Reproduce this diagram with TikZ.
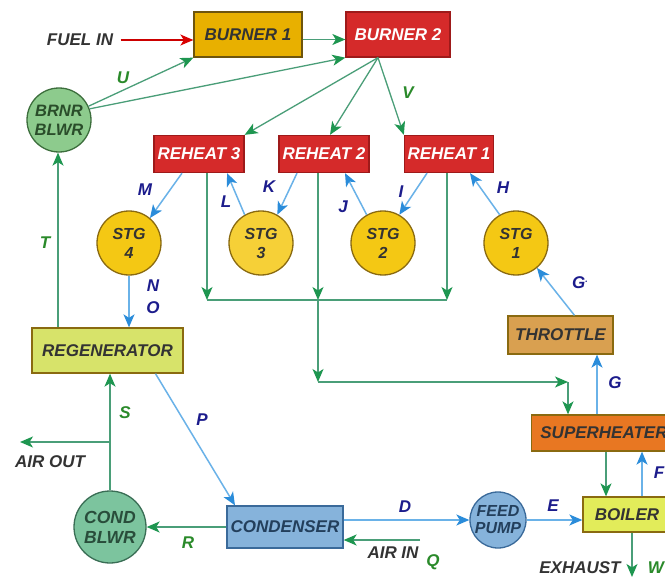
\documentclass[tikz,border=0pt]{standalone}
\usepackage{fontspec}
\setmainfont{Liberation Sans}
\usetikzlibrary{arrows.meta}
\definecolor{gln}{HTML}{4A9E78}
\definecolor{garr}{HTML}{1E9650}
\definecolor{bln}{HTML}{6AB2E8}
\definecolor{barr}{HTML}{2A8CDA}
\definecolor{navy}{HTML}{1C1C8C}
\definecolor{glab}{HTML}{2A8A2A}
\definecolor{txt}{HTML}{333333}
\definecolor{redf}{HTML}{D52A2A}
\definecolor{redd}{HTML}{9E1A1A}
\definecolor{goldf}{HTML}{E8B000}
\definecolor{yelf}{HTML}{F4C814}
\definecolor{yeld}{HTML}{8A6A10}
\definecolor{bbf}{HTML}{8DCB8D}
\definecolor{bbd}{HTML}{3C6E3C}
\definecolor{thrf}{HTML}{D9A050}
\definecolor{supf}{HTML}{E87722}
\definecolor{boilf}{HTML}{E2EC5A}
\definecolor{regf}{HTML}{D7E36A}
\definecolor{condf}{HTML}{86B3DB}
\definecolor{condd}{HTML}{3A6A9A}
\definecolor{cbf}{HTML}{7CC49E}
\definecolor{cbd}{HTML}{3A6E55}
\tikzset{
  every node/.style={font=\fontsize{17}{18}\selectfont\bfseries\itshape},
  boxnode/.style={rectangle, draw=#1, line width=1.3pt, inner sep=2pt},
  rednode/.style={boxnode=redd, fill=redf, text=white},
  circnode/.style={circle, line width=1.3pt, align=center, inner sep=0pt, font=\fontsize{16}{19}\selectfont\bfseries\itshape},
  tip/.style={-{Stealth[length=13pt,width=11pt,inset=3.5pt,color=#1]}},
  garrow/.style={draw=gln, line width=1.3pt, tip=garr},
  gline/.style={draw=gln, line width=1.3pt},
  barrow/.style={draw=bln, line width=1.5pt, tip=barr},
  blab/.style={text=navy, font=\fontsize{17}{18}\selectfont\bfseries\itshape},
  glabel/.style={text=glab, font=\fontsize{17}{18}\selectfont\bfseries\itshape},
  plain/.style={text=txt},
}
\begin{document}
\begin{tikzpicture}[x=1pt,y=-1pt]
\clip (0,0) rectangle (665,578);
\fill[white] (0,0) rectangle (665,578);
% boxes
\node[boxnode=yeld!80!black, fill=goldf, text=txt, minimum width=108pt, minimum height=45pt] (b1) at (248,34.5) {BURNER 1};
\node[rednode, minimum width=104pt, minimum height=45pt] (b2) at (398,34.5) {BURNER 2};
\node[rednode, minimum width=90pt, minimum height=37pt] (r3) at (199,154) {REHEAT 3};
\node[rednode, minimum width=90pt, minimum height=37pt] (r2) at (324,154) {REHEAT 2};
\node[rednode, minimum width=89pt, minimum height=37pt] (r1) at (449,154) {REHEAT 1};
\node[circnode, draw=yeld, fill=yelf, text=txt, minimum size=64pt] (s4) at (129,243) {STG\\4};
\node[circnode, draw=yeld, fill=yelf!85!white, text=txt, minimum size=64pt] (s3) at (261,243) {STG\\3};
\node[circnode, draw=yeld, fill=yelf, text=txt, minimum size=64pt] (s2) at (383,243) {STG\\2};
\node[circnode, draw=yeld, fill=yelf, text=txt, minimum size=64pt] (s1) at (516,243) {STG\\1};
\node[circnode, draw=bbd, fill=bbf, text=bbd!70!black, minimum size=64pt, font=\fontsize{16.5}{19}\selectfont\bfseries\itshape] (bb) at (59,120) {BRNR\\BLWR};
\node[boxnode=yeld, fill=thrf, text=txt, minimum width=105pt, minimum height=38pt] (thr) at (560.5,335) {THROTTLE};
\node[boxnode=yeld, fill=supf, text=txt, minimum width=145pt, minimum height=36pt] (sup) at (604,433) {SUPERHEATER};
\node[boxnode=yeld, fill=boilf, text=txt, minimum width=88pt, minimum height=35pt] (boil) at (627,514.5) {BOILER};
\node[circnode, draw=condd, fill=condf, text=condd!60!black, minimum size=56pt, font=\fontsize{16}{17}\selectfont\bfseries\itshape] (fp) at (498,520) {FEED\\PUMP};
\node[boxnode=condd, fill=condf, text=condd!60!black, minimum width=116pt, minimum height=42pt] (cond) at (285,527) {CONDENSER};
\node[circnode, draw=cbd, fill=cbf, text=cbd!70!black, minimum size=72pt, font=\fontsize{17.5}{20}\selectfont\bfseries\itshape] (cb) at (110,527) {COND\\BLWR};
\node[boxnode=yeld, fill=regf, text=txt, minimum width=151pt, minimum height=45pt] (regen) at (107.5,350.5) {REGENERATOR};
% plain texts
\node[plain] (fuel) at (80,40) {FUEL IN};
\node[plain] (airout) at (50,462) {AIR OUT};
\node[plain] (airin) at (393,553) {AIR IN};
\node[plain] (exh) at (580,568) {EXHAUST};
% coordinates
\coordinate (b2src) at ([xshift=-20pt]b2.south);
\coordinate (j1) at (207,300);
\coordinate (j2) at (318,300);
\coordinate (j3) at (447,300);
\coordinate (j4) at (318,382);
\coordinate (j5) at (568,382);
\coordinate (ao) at (110,442);
\coordinate (aoend) at (20,442);
\coordinate (aistart) at (420,540);
\coordinate (wx) at (632,0);
\coordinate (wend) at (632,577);
\coordinate (fx) at (642,0);
% burner connectors
\draw[draw=red!80!black, line width=1.3pt, tip=red!85!black, shorten <=4pt] (fuel.east) -- (fuel.east -| b1.west);
\draw[garrow] ([yshift=-5pt]b1.east) -- ([yshift=-5pt]b2.west);
\draw[garrow] (bb.25) -- (b1.south west);
\draw[garrow] (bb.20) -- (b2.south west);
\draw[garrow] (b2src) -- (r3.north east);
\draw[garrow] (b2src) -- ([xshift=6pt]r2.north);
\draw[garrow] (b2src) -- (r1.north west);
% steam loop
\draw[barrow] ([xshift=-17pt]r3.south) -- (s4.50);
\draw[barrow] (s3.120) -- ([xshift=28pt]r3.south);
\draw[barrow] ([xshift=-27pt]r2.south) -- (s3.60);
\draw[barrow] (s2.120) -- ([xshift=21pt]r2.south);
\draw[barrow] ([xshift=-22pt]r1.south) -- (s2.60);
\draw[barrow] (s1.120) -- ([xshift=21pt]r1.south);
\draw[barrow] ([xshift=14pt]thr.north) -- (s1.-50);
\draw[barrow] ([xshift=-7pt]sup.north) -- ([xshift=-7pt]sup.north |- thr.south);
\draw[barrow] (s4.south) -- (s4.south |- regen.north);
\draw[barrow] ([xshift=48pt]regen.south) -- ([xshift=-50pt]cond.north);
\draw[barrow] (cond.east |- fp.west) -- (fp.west);
\draw[barrow] (fp.east) -- (fp.east -| boil.west);
\draw[barrow] (boil.north -| fx) -- (sup.south -| fx);
% reheat exhaust gas
\draw[garrow] ([xshift=8pt]r3.south) -- (j1);
\draw[garrow] ([xshift=-6pt]r2.south) -- (j2);
\draw[garrow] ([xshift=-2pt]r1.south) -- (j3);
\draw[gline] (j1) -- (j3);
\draw[garrow] (j2) -- (j4);
\draw[garrow] (j4) -- (j5);
\draw[garrow] (j5) -- (j5 |- sup.north);
\draw[garrow] ([xshift=2pt]sup.south) -- ([xshift=2pt]sup.south |- boil.north);
\draw[garrow] (boil.south -| wx) -- (wend);
% air
\draw[garrow] (aistart) -- (aistart -| cond.east);
\draw[garrow] (cond.west) -- (cond.west -| cb.east);
\draw[garrow] (cb.north) -- (cb.north |- regen.south);
\draw[garrow] (ao) -- (aoend);
\draw[garrow] ([xshift=-49.5pt]regen.north) -- ([xshift=-49.5pt]regen.north |- bb.south);
% labels
\node[glabel] (lU) at (123,78) {U};
\node[glabel] (lV) at (408,93) {V};
\node[blab] (lM) at (145,190) {M};
\node[blab] (lL) at (226,202) {L};
\node[blab] (lK) at (269,187) {K};
\node[blab] (lJ) at (343,207) {J};
\node[blab] (lI) at (401,192) {I};
\node[blab] (lH) at (503,188) {H};
\node[blab] (lG2) at (580,283) {G\raisebox{6pt}{\fontsize{9}{9}\selectfont .}};
\node[blab] (lG) at (615,383) {G};
\node[blab] (lF) at (659,473) {F};
\node[blab] (lD) at (405,507) {D};
\node[blab] (lE) at (553,506) {E};
\node[glabel] (lQ) at (433,562) {Q};
\node[glabel] (lW) at (656,568) {W};
\node[glabel] (lR) at (188,543) {R};
\node[glabel] (lS) at (125,413) {S};
\node[blab] (lP) at (202,420) {P};
\node[glabel] (lT) at (45,243) {T};
\node[blab] (lN) at (153,286) {N};
\node[blab] (lO) at (153,308) {O};
\end{tikzpicture}
\end{document}
